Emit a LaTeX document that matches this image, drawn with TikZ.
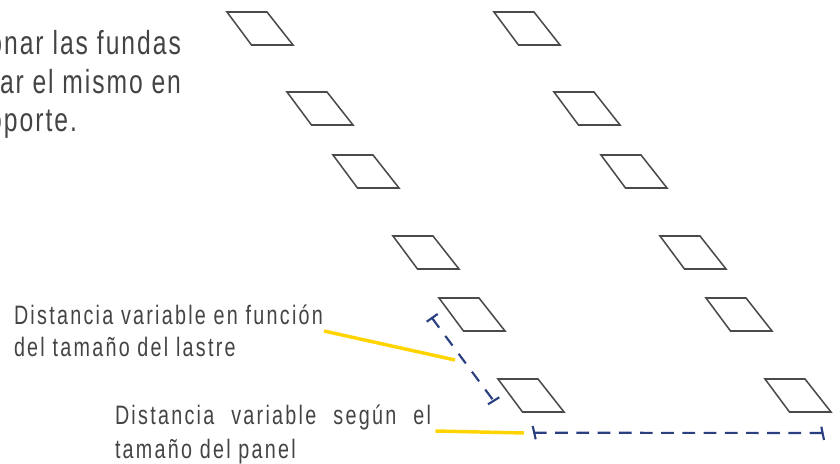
\documentclass[tikz,border=0pt]{standalone}
\usepackage{fontspec}
\setmainfont{Liberation Sans}[FakeStretch=0.74,LetterSpace=8.5]
\newfontfamily\topfont{Liberation Sans}[FakeStretch=0.74,LetterSpace=6]
\begin{document}
\begin{tikzpicture}[x=0.75pt,y=-0.75pt,
  panel/.style={draw=panelgray,line width=1.15pt,line join=miter},
  lab/.style={inner sep=0,outer sep=0,anchor=base west,text=txtgray,font=\fontsize{20}{24}\selectfont},
  big/.style={inner sep=0,outer sep=0,anchor=base east,text=txtgray,font=\topfont\fontsize{25}{30}\selectfont},
  lead/.style={draw=leadyellow,line width=2.6pt},
  dimcap/.style={draw=dimblue,line width=1.6pt},
  dimh/.style={dimcap,dash pattern=on 12.7*0.75pt off 8.5*0.75pt},
  dimd/.style={dimcap,dash pattern=on 12*0.75pt off 10.3*0.75pt}]
\definecolor{panelgray}{HTML}{4A4A4A}
\definecolor{txtgray}{HTML}{444444}
\definecolor{leadyellow}{HTML}{FFD400}
\definecolor{dimblue}{HTML}{2A3F80}
\useasboundingbox (0,0) rectangle (840,464);
\foreach \x/\y in {227/12,287/92,333/155,393/236,439/298,498/379,
                   494/12,554/92,601/155,660/236,706/298,765/379}
  \draw[panel] (\x,\y) -- ++(40,0) -- ++(26,33) -- ++(-41.5,0) -- cycle;
% top paragraph
\node[big] (p1) at (181,55) {onar las fundas};
\node[big] (p2) at (181,93) {\makebox[181\dimexpr0.75pt\relax][s]{ar el mismo en}};
\node[big] (p3) at (77,131) {oporte.};
% labels
\node[lab] (a1) at (14,324) {Distancia variable en función};
\node[lab] (a2) at (14,356) {del tamaño del lastre};
\node[lab] (b1) at (115,424) {\makebox[316\dimexpr0.75pt\relax][s]{Distancia variable según el}};
\node[lab] (b2) at (115,458) {tamaño del panel};
% leaders
\coordinate (l1s) at (324,331); \coordinate (l1e) at (455,360);
\coordinate (l2s) at (435.5,431); \coordinate (l2e) at (524,433);
\draw[lead] (l1s) -- (l1e);
\draw[lead] (l2s) -- (l2e);
% dimension lines
\coordinate (d1a) at (432,318); \coordinate (d1b) at (493.6,400.8);
\coordinate (d1a1) at (426.7,321.7); \coordinate (d1a2) at (437.7,314);
\coordinate (d1b1) at (488,404.3); \coordinate (d1b2) at (499.3,397.3);
\draw[dimd] (d1a) -- (d1b);
\draw[dimcap] (d1a1) -- (d1a2);
\draw[dimcap] (d1b1) -- (d1b2);
\coordinate (d2a) at (534,432.7); \coordinate (d2b) at (823,433);
\coordinate (d2a1) at (532.7,426); \coordinate (d2a2) at (535.7,439.3);
\coordinate (d2b1) at (821.3,426.7); \coordinate (d2b2) at (824,440);
\draw[dimh] (d2a) -- (d2b);
\draw[dimcap] (d2a1) -- (d2a2);
\draw[dimcap] (d2b1) -- (d2b2);
\end{tikzpicture}
\end{document}
